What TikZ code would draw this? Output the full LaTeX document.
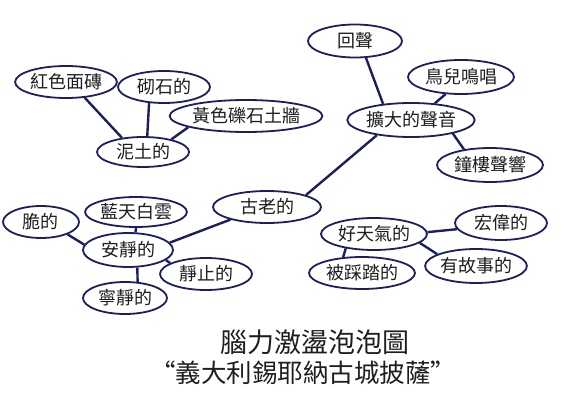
\documentclass[tikz,border=0pt]{standalone}
\usepackage{fontspec}
\newfontfamily\cjk{Noto Sans CJK TC}
\usetikzlibrary{shapes.geometric}
\definecolor{navy}{HTML}{1B1F5E}
\definecolor{ink}{HTML}{1E1E1E}
\tikzset{
  bub/.style={ellipse, draw=navy, line width=1.8pt, fill=white, inner sep=0pt,
    text=ink, font=\cjk\fontsize{18}{20}\selectfont},
  link/.style={draw=navy, line width=2.4pt},
}
\begin{document}
\begin{tikzpicture}[x=1pt,y=-1pt]
\useasboundingbox (0,0) rectangle (581,409);
% nodes
\node[bub, minimum width=92pt, minimum height=32pt] (hong) at (66,82) {紅色面磚};
\node[bub, minimum width=92pt, minimum height=32pt] (qi) at (164,87) {砌石的};
\node[bub, minimum width=142pt, minimum height=32pt] (huang) at (246,116) {黃色礫石土牆};
\node[bub, minimum width=92pt, minimum height=30pt] (ni) at (143,152) {泥土的};
\node[bub, minimum width=94pt, minimum height=33pt] (hui) at (355,41) {回聲};
\node[bub, minimum width=106pt, minimum height=34pt] (niao) at (461,77) {鳥兒鳴唱};
\node[bub, minimum width=124pt, minimum height=34pt] (kuo) at (411,120) {擴大的聲音};
\node[bub, minimum width=106pt, minimum height=34pt] (zhong) at (490,165) {鐘樓聲響};
\node[bub, minimum width=108pt, minimum height=32pt] (gu) at (267,207) {古老的};
\node[bub, minimum width=76pt, minimum height=32pt] (cui) at (41,222) {脆的};
\node[bub, minimum width=94pt, minimum height=30pt] (lan) at (136,212) {藍天白雲};
\node[bub, minimum width=90pt, minimum height=34pt] (an) at (128,250) {安靜的};
\node[bub, minimum width=92pt, minimum height=32pt] (jing) at (206,274) {靜止的};
\node[bub, minimum width=84pt, minimum height=32pt] (ning) at (125,298) {寧靜的};
\node[bub, minimum width=106pt, minimum height=32pt] (hao) at (374,234) {好天氣的};
\node[bub, minimum width=92pt, minimum height=34pt] (hong2) at (501,223) {宏偉的};
\node[bub, minimum width=106pt, minimum height=32pt] (bei) at (362,273) {被踩踏的};
\node[bub, minimum width=92pt, minimum height=34pt] (you) at (476,266) {有故事的};
% connectors
\draw[link] (hong.-40) -- (ni.146);
\draw[link] (qi.-133) -- (ni.75);
\draw[link] (huang.-169) -- (ni.24);
\draw[link] (hui.-57) -- (kuo.150);
\draw[link] (niao.-132) -- (kuo.35);
\draw[link] (zhong.149) -- (kuo.-18);
\draw[link] (kuo.-156) -- (gu.17);
\draw[link] (an.10) -- (gu.-161);
\draw[link] (cui.-25) -- (an.173);
\draw[link] (lan.-90) -- (an.67);
\draw[link] (an.-15) -- (jing.163);
\draw[link] (ning.52) -- (an.-62);
\draw[link] (hao.2) -- (hong2.-172);
\draw[link] (hao.-11) -- (you.163);
\draw[link] (hao.-153) -- (bei.140);
% title
\node[text=ink, font=\cjk\fontsize{27}{30}\selectfont, inner sep=0pt] (t1) at (315,342) {腦力激盪泡泡圖};
\node[text=ink, font=\cjk\fontsize{25.5}{30}\selectfont, inner sep=0pt] (t2) at (303,373) {“義大利錫耶納古城披薩”};
\end{tikzpicture}
\end{document}
